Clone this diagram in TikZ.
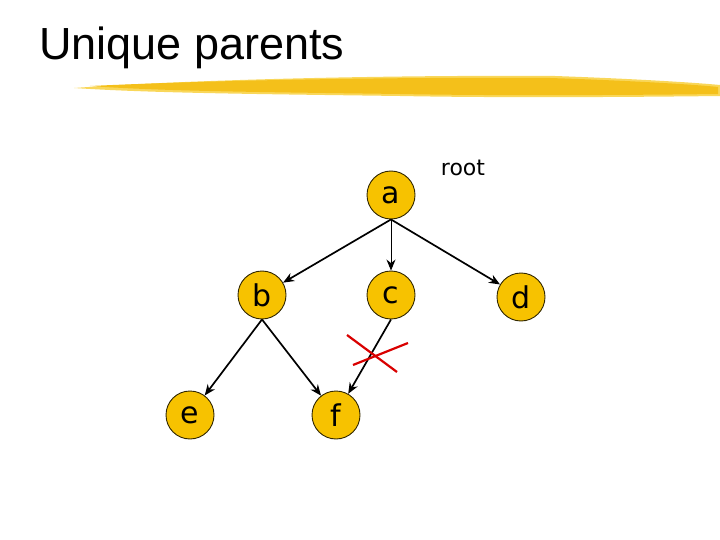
\documentclass[tikz,border=0pt]{standalone}
\usepackage{fontspec}
\setmainfont{DejaVu Sans}
\newfontfamily\titlefont{Liberation Sans}
\usetikzlibrary{arrows.meta}
\definecolor{gold}{HTML}{F7C200}
\definecolor{brushA}{HTML}{F4C01A}
\definecolor{brushB}{HTML}{F9D75A}
\tikzset{
  tnode/.style={circle, draw=black!80!gold, line width=0.9pt, fill=gold, minimum size=48pt, inner sep=0pt, font=\fontsize{30}{34}\selectfont},
  edge/.style={-{Stealth[length=11pt,width=9pt]}, line width=1.7pt, black},
  thinedge/.style={-{Stealth[length=11pt,width=9pt]}, line width=0.9pt, black},
  cross/.style={red!85!black, line width=2.2pt}
}
\begin{document}
\begin{tikzpicture}[x=1pt,y=-1pt]
\useasboundingbox (0,0) rectangle (720,540);
% title
\node[anchor=base west, inner sep=0pt, font=\titlefont\fontsize{45}{50}\selectfont] (title) at (39,60) {Unique parents};
% brush stroke
\fill[brushB] (74,88) .. controls (200,79) and (400,75) .. (555,76) .. controls (640,79) and (700,83) .. (720,85) -- (720,96) .. controls (640,97) and (500,98) .. (400,96) .. controls (250,94) and (150,93) .. (74,88) -- cycle;
\fill[brushA] (90,86) .. controls (220,80) and (400,77) .. (550,78) .. controls (640,81) and (700,85) .. (718,87) -- (718,94) .. controls (640,95) and (500,96) .. (400,94) .. controls (250,92) and (160,91) .. (90,86) -- cycle;
% nodes
\node[tnode] (a) at (391,195) {a};
\node[tnode] (b) at (262,295) {b};
\node[tnode] (c) at (391,295) {c};
\node[tnode] (d) at (521,297) {d};
\node[tnode] (e) at (190,415) {e};
\node[tnode] (f) at (336,415) {f};
\node[font=\fontsize{22}{26}\selectfont, anchor=base] (root) at (463,176) {root};
% edges
\draw[edge] (a.south) -- (b);
\draw[thinedge] (a.south) -- (c);
\draw[edge] (a.south) -- (d);
\draw[edge] (b.south) -- (e);
\draw[edge] (b.south) -- (f);
\draw[edge] (c.south) -- (f);
% cross
\coordinate (x1) at (347,335);
\coordinate (x2) at (397,372);
\coordinate (x3) at (353,365);
\coordinate (x4) at (408,343);
\draw[cross] (x1) -- (x2);
\draw[cross] (x3) -- (x4);
\end{tikzpicture}
\end{document}
